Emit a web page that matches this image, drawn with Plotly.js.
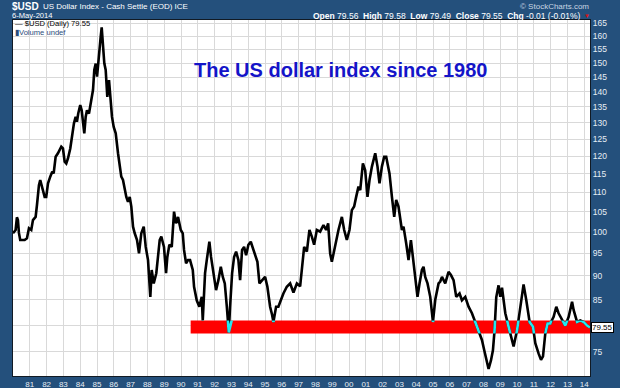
<!DOCTYPE html>
<html>
<head>
<meta charset="utf-8">
<script src="https://cdn.plot.ly/plotly-3.0.1.min.js"></script>
<style>
html,body{margin:0;padding:0;background:#24507c;}
#chart{width:620px;height:388px;}
</style>
</head>
<body>
<div id="chart"></div>
<script>
// ---- data ----
const dates = [
"1980-01-02","1980-02-28","1980-03-27","1980-04-18","1980-05-10","1980-06-07","1980-09-11","1980-10-31","1980-12-14",
"1981-02-02","1981-03-11","1981-05-08","1981-06-06","1981-07-19","1981-08-16","1981-09-29","1981-11-20","1981-12-24",
"1982-02-01","1982-03-22","1982-05-04","1982-06-04","1982-07-17","1982-09-05","1982-11-16","1982-12-23",
"1983-01-29","1983-03-05","1983-04-11","1983-05-31","1983-07-13","1983-08-19","1983-09-25","1983-10-23","1983-11-20",
"1984-01-03","1984-02-03","1984-03-02","1984-03-31","1984-04-30","1984-05-28","1984-07-11","1984-08-23","1984-10-06","1984-11-03","1984-12-04",
"1985-01-02","1985-01-29","1985-03-01","1985-03-22","1985-04-13","1985-05-11","1985-06-09","1985-07-09","1985-08-13","1985-09-19","1985-10-17","1985-11-23","1985-12-30",
"1986-02-12","1986-04-03","1986-05-10","1986-06-13","1986-07-20","1986-08-26","1986-09-30","1986-11-06","1986-12-13",
"1987-01-17","1987-02-23","1987-04-01","1987-05-21","1987-07-03","1987-08-22","1987-10-14","1987-11-26",
"1988-01-15","1988-02-21","1988-03-05","1988-04-04","1988-05-18","1988-07-13","1988-08-19","1988-09-25","1988-10-30","1988-12-27",
"1989-02-10","1989-03-10","1989-04-23","1989-06-14","1989-08-03","1989-09-15","1989-10-29","1989-12-27",
"1990-02-08","1990-03-08","1990-04-21","1990-06-03","1990-07-17","1990-09-14","1990-10-12","1990-12-09",
"1991-02-04","1991-03-28","1991-04-19","1991-06-08","1991-07-15","1991-09-10","1991-10-16","1991-12-05",
"1992-02-02","1992-03-24","1992-05-15","1992-06-28","1992-08-10","1992-09-23","1992-11-05","1992-12-03",
"1993-01-16","1993-02-28","1993-04-13","1993-06-02","1993-07-09","1993-08-21","1993-10-04","1993-11-16",
"1994-01-05","1994-02-26","1994-04-24","1994-06-06","1994-07-20","1994-09-02","1994-10-24",
"1995-01-03","1995-02-22","1995-04-22","1995-06-04","1995-07-03","1995-08-30","1995-10-19","1995-12-11",
"1996-02-05","1996-04-19","1996-07-01","1996-09-11","1996-11-24",
"1997-02-03","1997-04-03","1997-05-01","1997-06-29","1997-08-24","1997-10-15","1997-12-04",
"1998-02-01","1998-04-14","1998-06-25","1998-08-22","1998-10-05","1998-11-17","1998-12-24",
"1999-02-12","1999-03-28","1999-05-17","1999-07-30","1999-09-18","1999-11-15",
"2000-01-11","2000-03-03","2000-04-22","2000-06-05","2000-07-25","2000-09-01","2000-10-29","2000-12-18",
"2001-02-06","2001-03-22","2001-05-13","2001-07-24","2001-09-12","2001-10-25","2001-12-16",
"2002-02-04","2002-03-20","2002-04-17","2002-05-30","2002-07-22","2002-09-10","2002-10-23","2002-12-12",
"2003-02-24","2003-03-31","2003-05-29","2003-07-18","2003-09-08","2003-10-21","2003-12-10",
"2004-01-29","2004-03-13","2004-05-04","2004-06-08","2004-07-15","2004-09-03","2004-11-01","2004-12-30",
"2005-02-18","2005-05-01","2005-06-07","2005-07-14","2005-09-23","2005-12-04",
"2006-01-25","2006-03-23","2006-05-20","2006-07-31","2006-09-21","2006-12-02",
"2007-02-12","2007-04-27","2007-07-07","2007-09-17","2007-11-30",
"2008-01-19","2008-03-18","2008-04-22","2008-06-13","2008-07-26","2008-08-30","2008-10-06","2008-11-25",
"2009-01-02","2009-02-08","2009-04-21","2009-07-01","2009-08-18","2009-10-18",
"2010-01-01","2010-03-28","2010-05-23","2010-07-21","2010-10-01","2010-12-14",
"2011-02-02","2011-04-15","2011-06-06","2011-07-19","2011-09-07","2011-10-27","2011-12-25",
"2012-03-06","2012-05-03","2012-06-22","2012-09-05","2012-11-15",
"2013-01-27","2013-04-11","2013-05-16","2013-07-29","2013-10-08","2013-12-19",
"2014-03-03","2014-05-06"
];
const usd = [
99.7,100.5,103.6,102.9,99.8,98.1,98.1,98.5,100.9,
100.5,102.9,103.7,106.7,111.9,113.3,111.5,108.8,108.8,
112.4,114.2,115.6,115.1,119.8,120.8,122.7,122.2,
118.4,117.9,119.3,122.2,126.2,129.8,131.8,130.3,132.9,
135.6,133.9,130.8,126.7,131.8,133.9,132.9,137.3,140.6,147.5,149.8,
145.2,151.0,154.6,159.7,163.4,155.9,149.9,147.5,138.3,144.0,138.3,131.8,128.7,
126.7,120.8,117.0,114.2,113.3,110.6,108.8,107.5,108.8,
106.3,101.3,99.7,98.1,95.0,99.7,101.3,96.5,
93.5,87.7,85.6,91.3,88.4,90.6,95.0,98.1,98.9,96.5,
90.6,94.2,97.0,96.5,105.0,102.1,103.7,100.5,
99.7,95.8,92.8,93.5,93.5,91.3,87.7,84.9,
83.6,85.6,80.9,90.6,93.5,97.7,94.2,90.6,
87.0,89.1,92.0,89.8,88.4,83.6,78.6,83.6,
90.6,94.2,95.4,93.5,89.1,95.8,96.5,94.6,
97.0,97.7,95.8,94.6,93.1,88.4,89.1,
89.8,87.7,83.6,82.0,80.6,83.6,83.6,84.9,
86.3,87.7,88.4,86.5,88.4,
87.8,93.5,96.5,95.4,100.5,98.9,97.0,
100.5,100.1,101.7,100.5,102.1,95.0,93.1,
95.8,98.1,100.5,103.7,100.5,98.1,
100.5,105.4,106.3,108.8,111.5,110.6,117.9,116.0,
108.8,113.3,117.0,120.8,117.0,112.4,117.0,
119.8,119.8,117.9,115.1,108.8,103.7,108.0,106.3,
100.5,101.3,97.3,93.5,98.1,94.2,90.6,
85.6,88.4,91.3,92.0,89.8,88.4,85.6,80.6,
85.0,88.4,88.8,89.8,88.4,90.9,
90.2,89.1,85.6,86.3,84.9,85.6,
83.6,82.3,80.6,79.0,77.2,
75.3,72.9,72.0,73.5,75.3,79.0,85.5,88.0,
85.6,87.5,82.3,79.7,77.8,76.0,
79.0,84.9,88.2,84.9,80.6,79.7,
76.6,74.7,73.6,74.2,78.4,80.3,80.3,
81.6,83.6,82.3,80.9,79.9,
81.6,84.6,82.9,80.6,80.9,80.6,
79.9,79.55
];
const lastValue = 79.55;
const bandLow = 78.4, bandHigh = 80.9, bandStart = "1990-07-30";
const yTickVals = [75,80,85,90,95,100,105,110,115,120,125,130,135,140,145,150,155,160,165];
// the 80 label is hidden behind the last-value box in the reference
const yTickText = ["75","","85","90","95","100","105","110","115","120","125","130","135","140","145","150","155","160","165"];
const xTickYears = [1981,1982,1983,1984,1985,1986,1987,1988,1989,1990,1991,1992,1993,1994,1995,1996,1997,
  1998,1999,2000,2001,2002,2003,2004,2005,2006,2007,2008,2009,2010,2011,2012,2013,2014];
const xTickText = ["81","82","83","84","85","86","87","88","89","90","91","92","93","94","95","96","97",
  "98","99","00","01","02","03","04","05","06","07","08","09","10","11","12","13","14"];
const yMin = 70.8, yMax = 166.3;
const xStart = "1980-01-02", xEnd = "2014-05-06";

// ---- layout ----
const NAVY = "#24507c";
const FONT = "Liberation Sans, Arial, sans-serif";
const lg = Math.log10;
const bandDom = [(lg(bandLow)-lg(yMin))/(lg(yMax)-lg(yMin)), (lg(bandHigh)-lg(yMin))/(lg(yMax)-lg(yMin))];

const traces = [
  {x: dates, y: usd, type: "scatter", mode: "lines", xaxis: "x", yaxis: "y",
   line: {color: "#000000", width: 2.6}, hoverinfo: "skip"},
  {x: dates, y: usd, type: "scatter", mode: "lines", xaxis: "x2", yaxis: "y2",
   line: {color: "#25e6ee", width: 2.6}, hoverinfo: "skip"}
];

const ann = [];
function A(text, x, y, size, color, xa, ya, extra) {
  ann.push(Object.assign({text: text, xref: "paper", yref: "paper", x: x, y: y, showarrow: false,
    xanchor: xa || "left", yanchor: ya || "middle", borderpad: 0, font: {family: FONT, size: size, color: color}}, extra || {}));
}
// px -> paper helpers (plot area: x 13..590.5, y 20..376)
const PX = x => (x - 13) / 577.5;
const PY = y => (376 - y) / 356;

A("<b>$USD</b>", PX(11), PY(6.2), 10, "#ffffff", "left", "middle");
A("US Dollar Index - Cash Settle (EOD) ICE", PX(42), PY(6.8), 8, "#ffffff");
A("6-May-2014", PX(11), PY(15.6), 7.6, "#ffffff");
A("© StockCharts.com", PX(591), PY(6.3), 8, "#c9d6e3", "right");
A("<b>Open</b> 79.56  <b>High</b> 79.58  <b>Low</b> 79.49  <b>Close</b> 79.55  <b>Chg</b> -0.01 (-0.01%)", PX(582), PY(15.6), 8.5, "#ffffff", "right");
A("▼", PX(583.5), PY(16), 6, "#e01010");
A("— $USD (Daily) " + lastValue.toFixed(2), PX(14), PY(23.8), 7.6, "#000000");
A("▮Volume undef", PX(14), PY(32.8), 7.6, "#2a4c7a");
A("<b>The US dollar index since 1980</b>", PX(341), PY(70), 20, "#1414c8", "center");
ann.push({text: lastValue.toFixed(2), xref: "paper", yref: "y", x: 1.002, y: lg(lastValue), showarrow: false,
  xanchor: "left", yanchor: "middle", bgcolor: "#ffffff", bordercolor: "#000000", borderwidth: 1, borderpad: 0,
  font: {family: FONT, size: 8, color: "#000000"}});

const layout = {
  width: 620, height: 388,
  margin: {l: 13, r: 29.5, t: 20, b: 12, pad: 0},
  paper_bgcolor: NAVY,
  plot_bgcolor: "rgba(0,0,0,0)",
  showlegend: false,
  hovermode: false,
  xaxis: {type: "date", range: [xStart, xEnd], tickmode: "array",
    tickvals: xTickYears.map(y => y + "-01-01"), ticktext: xTickText,
    showgrid: true, gridcolor: "#d9d9d9", gridwidth: 1, zeroline: false,
    showline: true, mirror: true, linecolor: "#111a24", linewidth: 1, ticks: "",
    tickfont: {family: FONT, size: 8, color: "#e6edf4"}},
  yaxis: {type: "log", range: [lg(yMin), lg(yMax)], side: "right", tickmode: "array", tickvals: yTickVals,
    ticktext: yTickText, showgrid: true, gridcolor: "#d9d9d9", gridwidth: 1, zeroline: false,
    showline: true, mirror: true, linecolor: "#111a24", linewidth: 1, ticks: "",
    tickfont: {family: FONT, size: 8.5, color: "#e6edf4"}},
  xaxis2: {type: "date", matches: "x", anchor: "y2", visible: false, showgrid: false},
  yaxis2: {type: "log", domain: bandDom, range: [lg(bandLow), lg(bandHigh)], anchor: "x2",
    visible: false, showgrid: false},
  shapes: [
    {type: "rect", xref: "paper", yref: "paper", x0: 0, x1: 1, y0: 0, y1: 1, layer: "below",
     fillcolor: "#ffffff", line: {width: 0}},
    {type: "rect", xref: "x", yref: "y", x0: bandStart, x1: xEnd, y0: bandLow, y1: bandHigh,
     layer: "between", fillcolor: "#ff0000", line: {width: 0}}
  ],
  annotations: ann
};

Plotly.newPlot("chart", traces, layout, {staticPlot: true, displayModeBar: false});
</script>
</body>
</html>
